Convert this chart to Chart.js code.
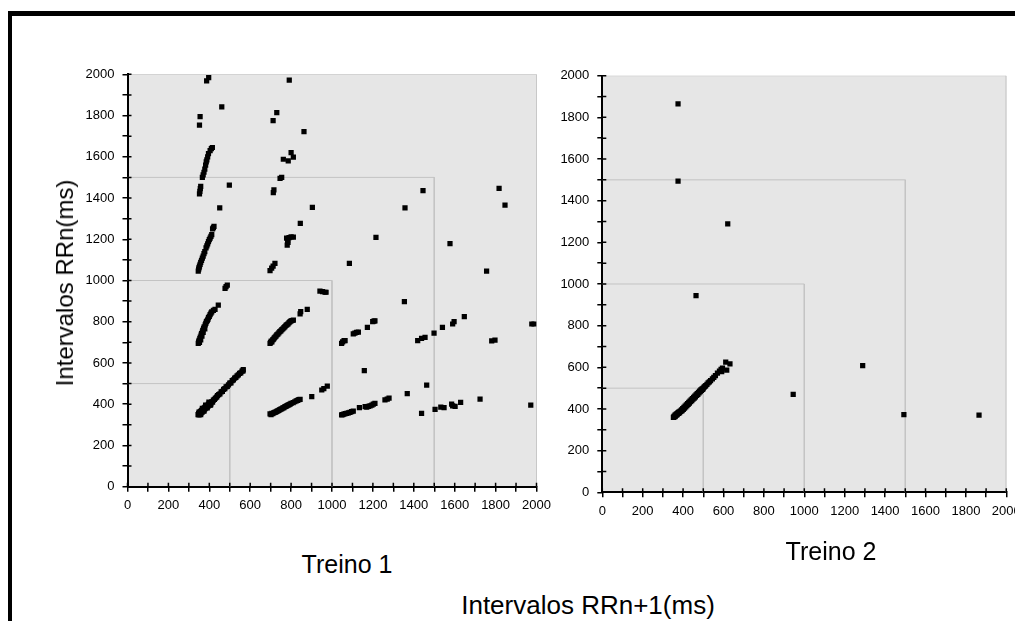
<!DOCTYPE html>
<html>
<head>
<meta charset="utf-8">
<script src="https://cdn.jsdelivr.net/npm/chart.js@4.4.0/dist/chart.umd.min.js"></script>
<style>
  html, body { margin: 0; padding: 0; background: #fff; overflow: hidden; width: 1015px; height: 621px; }
  .frame { position: absolute; background: #000; }
  canvas { position: absolute; top: 0; }
  .txt { position: absolute; font-family: "Liberation Sans", Arial, sans-serif; color: #000; white-space: nowrap; transform: translate(-50%, -50%); }
</style>
</head>
<body>
<div class="frame" style="left:8px; top:11px; width:1100px; height:5px;"></div>
<div class="frame" style="left:8px; top:11px; width:4px; height:700px;"></div>

<canvas id="grafico1" width="570" height="540" style="left:0; width:570px; height:540px;"></canvas>
<canvas id="grafico2" width="570" height="540" style="left:480px; width:570px; height:540px;"></canvas>

<div class="txt" style="left:65px; top:283px; font-size:24px; transform: translate(-50%, -50%) rotate(-90deg);">Intervalos RRn(ms)</div>
<div class="txt" style="left:347px; top:564px; font-size:25px;">Treino 1</div>
<div class="txt" style="left:831px; top:551px; font-size:25px;">Treino 2</div>
<div class="txt" style="left:588px; top:605px; font-size:26px;">Intervalos RRn+1(ms)</div>

<script>
// Limites dos eixos e quadrados de referência
const eixoMin = 0;
const eixoMax = 2000;
const passoTick = 100;
const quadrados = [500, 1000, 1500, 2000];

// Pares (RRn+1, RRn) - Treino 1
const treino1 = [
    // faixa principal ~350-565
    [345,350],[348,355],[350,348],[352,360],[355,352],[357,365],[360,358],[362,370],[365,362],[368,375],
    [370,368],[372,380],[375,372],[378,385],[380,378],[383,390],[386,384],[390,395],[393,390],[396,400],
    [400,396],[404,406],[408,402],[412,412],[416,410],[420,420],[425,424],[430,430],[436,434],[440,442],
    [446,446],[452,450],[458,460],[464,462],[470,472],[476,476],[482,484],[488,486],[494,494],[500,502],
    [506,504],[512,514],[518,518],[524,526],[530,530],[536,538],[542,542],[548,550],[554,552],[560,560],
    [565,562],[566,568],[350,362],[358,350],[366,380],[374,366],[382,396],[390,382],[398,410],[406,396],
    // faixa ~700-880
    [346,695],[348,702],[350,710],[352,700],[354,718],[356,725],[358,712],[360,735],[362,742],[364,730],
    [366,750],[368,758],[370,748],[372,768],[375,775],[378,765],[380,785],[383,792],[386,800],[390,805],
    [393,812],[396,820],[400,826],[404,834],[408,842],[412,848],[420,855],[428,860],[444,881],
    [477,962],[482,970],[488,978],
    // faixa ~1040-1260
    [346,1045],[348,1055],[350,1062],[352,1070],[355,1078],[358,1088],[362,1098],[366,1108],[370,1118],
    [374,1130],[378,1140],[384,1158],[388,1168],[392,1178],[396,1188],[400,1198],[404,1206],[408,1214],
    [412,1222],[416,1250],[420,1256],[423,1262],
    // faixa ~1420-1645
    [352,1420],[354,1432],[356,1445],[358,1456],[366,1500],[370,1512],[374,1525],[378,1540],[382,1560],
    [385,1575],[388,1585],[392,1600],[396,1615],[404,1630],[410,1640],[415,1645],
    [355,1795],[352,1754],[387,1968],[397,1984],[461,1842],[498,1462],[451,1352],
    // coluna ~700-900 (alto)
    [791,1972],[730,1814],[712,1775],[863,1722],[762,1588],[786,1580],[800,1620],[811,1598],[754,1500],
    [746,1495],[713,1426],[716,1439],[904,1355],[845,1277],[778,1205],[790,1208],[800,1212],[811,1210],
    [781,1172],[783,1195],[785,1185],[697,1048],[705,1060],[712,1070],[721,1083],
    // faixa ~700-810
    [697,695],[700,700],[703,706],[706,702],[710,712],[714,716],[718,722],[722,726],[726,730],[730,736],
    [735,740],[740,746],[745,752],[750,756],[755,762],[760,766],[765,772],[770,776],[775,782],[780,786],
    [785,790],[790,796],[795,800],[800,804],[805,806],[811,808],[844,838],[847,849],[879,860],
    [941,949],[954,946],[966,943],[971,943],
    // faixa ~700-980 (baixo)
    [697,353],[702,350],[706,356],[710,354],[715,358],[720,360],[725,362],[730,365],[735,368],[740,370],
    [745,374],[750,376],[755,378],[760,382],[765,384],[770,388],[775,390],[780,393],[785,396],[790,398],
    [795,401],[800,404],[810,408],[818,412],[825,416],[832,419],[838,422],[844,424],[901,437],
    [950,469],[960,476],[977,488],
    // ~1050-1280
    [1047,695],[1052,702],[1059,708],[1064,708],[1104,741],[1112,745],[1120,748],[1129,750],[1173,773],
    [1199,800],[1205,803],[1210,804],
    [1047,348],[1052,350],[1058,352],[1065,354],[1072,356],[1080,358],[1088,360],[1096,364],[1104,367],
    [1134,383],[1162,388],[1170,386],[1178,390],[1186,392],[1195,396],[1202,400],[1210,404],
    [1259,421],[1270,425],[1279,429],
    [1158,563],[1354,897],[1357,1352],[1215,1209],[1085,1083],[1445,1436],[1817,1447],[1846,1365],
    [1577,1179],[1756,1046],
    // ~1400-2000
    [1419,708],[1438,719],[1455,724],[1499,745],[1540,773],[1590,789],[1597,800],[1647,825],
    [1781,707],[1797,711],[1977,789],[1988,789],
    [1463,493],[1368,451],[1438,356],[1504,375],[1532,386],[1548,384],[1585,400],[1590,392],
    [1602,390],[1629,409],[1724,425],[1972,396]
];

// Pares (RRn+1, RRn) - Treino 2
const treino2 = [
    [352,360],[355,365],[358,362],[360,370],[362,366],[365,374],[368,370],[370,378],[372,375],[375,382],
    [378,379],[380,386],[383,383],[386,390],[389,388],[392,396],[395,392],[398,402],[401,398],[404,408],
    [407,404],[410,414],[413,410],[416,420],[419,416],[422,426],[425,422],[428,432],[431,428],[434,438],
    [437,435],[440,444],[443,440],[446,450],[449,447],[452,456],[455,452],[458,462],[461,458],[464,468],
    [467,465],[470,474],[473,470],[476,480],[479,477],[482,486],[485,483],[488,492],[491,489],[494,497],
    [497,494],[500,500],[504,505],[508,508],[512,512],[518,518],[524,525],[530,530],[536,536],[545,545],
    [552,552],[560,560],[570,572],[580,582],[588,590],[595,596],[591,579],[616,587],[611,625],[632,616],
    [375,1865],[375,1494],[621,1289],[464,944],[945,470],[1289,608],[1493,373],[1865,371]
];

// Pinta o fundo cinza da área do gráfico
const fundoPlugin = {
    id: 'fundo',
    beforeDraw(chart) {
        const { ctx, chartArea: a } = chart;
        ctx.save();
        ctx.fillStyle = '#e6e6e6';
        ctx.fillRect(a.left, a.top, a.right - a.left, a.bottom - a.top);
        ctx.restore();
    }
};

// Marcas dos ticks também para dentro do eixo
const ticksDentroPlugin = {
    id: 'ticksDentro',
    afterDraw(chart) {
        const { ctx, chartArea: a, scales } = chart;
        ctx.save();
        ctx.strokeStyle = '#000';
        ctx.lineWidth = 1.5;
        ctx.beginPath();
        scales.x.ticks.forEach(t => {
            const px = scales.x.getPixelForValue(t.value);
            ctx.moveTo(px, a.bottom);
            ctx.lineTo(px, a.bottom - 4);
        });
        scales.y.ticks.forEach(t => {
            const py = scales.y.getPixelForValue(t.value);
            ctx.moveTo(a.left, py);
            ctx.lineTo(a.left + 4, py);
        });
        ctx.stroke();
        ctx.restore();
    }
};

function criarEixo(larguraOuAltura, horizontal) {
    return {
        type: 'linear',
        min: eixoMin,
        max: eixoMax,
        ticks: {
            stepSize: passoTick,
            autoSkip: false,
            maxRotation: 0,
            padding: horizontal ? 6 : 8,
            color: '#000',
            font: { family: '"Liberation Sans", Arial, sans-serif', size: 13 },
            callback: v => (v % 200 === 0 ? v : '')
        },
        grid: { display: true, drawOnChartArea: false, drawTicks: true, tickLength: 5, color: '#000', lineWidth: 1.5 },
        border: { display: true, color: '#000', width: 2 },
        afterFit: scale => {
            if (horizontal) scale.height = larguraOuAltura;
            else scale.width = larguraOuAltura;
        }
    };
}

function criarGrafico(id, pontos, larguraY, padding) {
    const linhas = quadrados.map(q => ({
        type: 'line',
        data: [{ x: 0, y: q }, { x: q, y: q }, { x: q, y: 0 }],
        borderColor: '#c3c3c3',
        borderWidth: 1,
        pointRadius: 0,
        fill: false,
        order: 1
    }));
    new Chart(document.getElementById(id), {
        type: 'scatter',
        data: {
            datasets: [{
                data: pontos.map(p => ({ x: p[0], y: p[1] })),
                pointStyle: 'rect',
                pointRadius: 3.7,
                backgroundColor: '#000',
                borderWidth: 0,
                order: 0
            }, ...linhas]
        },
        options: {
            responsive: false,
            animation: false,
            layout: { padding: padding },
            plugins: { legend: { display: false }, tooltip: { enabled: false } },
            scales: {
                x: criarEixo(30, true),
                y: criarEixo(larguraY, false)
            }
        },
        plugins: [fundoPlugin, ticksDentroPlugin]
    });
}

criarGrafico('grafico1', treino1, 127.5, { left: 0, right: 33.5, top: 74.3, bottom: 23.3 });
criarGrafico('grafico2', treino2, 122.3, { left: 0, right: 43.7, top: 75.7, bottom: 17.7 });
</script>
</body>
</html>
